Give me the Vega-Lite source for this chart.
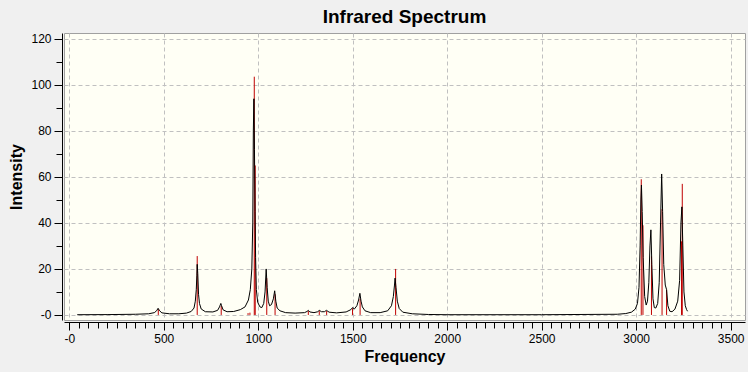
{
  "$schema": "https://vega.github.io/schema/vega-lite/v6.json",
  "width": 681,
  "height": 287,
  "autosize": {"type": "none"},
  "padding": {"left": 64, "top": 33, "right": 3, "bottom": 52},
  "background": "#F0F0F0",
  "title": {"text": "Infrared Spectrum", "font": "Liberation Sans", "fontSize": 19, "fontWeight": "bold", "color": "#000000", "anchor": "middle", "offset": 6},
  "config": {"view": {"fill": "#FFFFF5", "stroke": "#A0A0A0", "strokeWidth": 1}},
  "datasets": {
    "sticks": [
      {"freq": 471, "intensity": 2.5},
      {"freq": 677, "intensity": 25.6},
      {"freq": 804, "intensity": 3.9},
      {"freq": 946, "intensity": 0.8},
      {"freq": 956, "intensity": 1.0},
      {"freq": 979, "intensity": 103.6},
      {"freq": 984, "intensity": 65},
      {"freq": 1045, "intensity": 16},
      {"freq": 1089, "intensity": 9},
      {"freq": 1265, "intensity": 1.7},
      {"freq": 1323, "intensity": 1.7},
      {"freq": 1362, "intensity": 1.7},
      {"freq": 1499, "intensity": 2.9},
      {"freq": 1539, "intensity": 7},
      {"freq": 1727, "intensity": 20},
      {"freq": 3027, "intensity": 59},
      {"freq": 3036, "intensity": 39},
      {"freq": 3081, "intensity": 25.5},
      {"freq": 3137, "intensity": 46},
      {"freq": 3161, "intensity": 11},
      {"freq": 3240, "intensity": 32},
      {"freq": 3244, "intensity": 57}
    ],
    "curve": [
      {"freq": 42, "intensity": 0.1},
      {"freq": 200, "intensity": 0.15},
      {"freq": 350, "intensity": 0.3},
      {"freq": 420, "intensity": 0.5},
      {"freq": 450, "intensity": 1.0},
      {"freq": 462, "intensity": 1.8},
      {"freq": 470, "intensity": 2.9},
      {"freq": 478, "intensity": 1.8},
      {"freq": 490, "intensity": 0.9},
      {"freq": 530, "intensity": 0.5},
      {"freq": 580, "intensity": 0.5},
      {"freq": 620, "intensity": 0.8},
      {"freq": 645, "intensity": 1.5},
      {"freq": 660, "intensity": 3},
      {"freq": 667, "intensity": 6},
      {"freq": 672, "intensity": 11},
      {"freq": 675, "intensity": 17},
      {"freq": 677, "intensity": 22},
      {"freq": 680, "intensity": 18},
      {"freq": 684, "intensity": 9},
      {"freq": 689, "intensity": 5},
      {"freq": 698, "intensity": 2.6},
      {"freq": 720, "intensity": 1.4},
      {"freq": 760, "intensity": 1.3},
      {"freq": 785, "intensity": 2},
      {"freq": 795, "intensity": 3.5},
      {"freq": 802, "intensity": 5},
      {"freq": 806, "intensity": 4},
      {"freq": 814, "intensity": 2.2},
      {"freq": 835, "intensity": 1.4},
      {"freq": 870, "intensity": 1.5},
      {"freq": 905, "intensity": 2.3},
      {"freq": 930, "intensity": 3.5},
      {"freq": 948, "intensity": 6.5},
      {"freq": 958, "intensity": 11},
      {"freq": 966, "intensity": 20},
      {"freq": 971, "intensity": 40},
      {"freq": 974, "intensity": 80},
      {"freq": 977, "intensity": 94},
      {"freq": 980, "intensity": 72},
      {"freq": 983, "intensity": 45},
      {"freq": 986, "intensity": 25},
      {"freq": 990, "intensity": 11},
      {"freq": 997, "intensity": 5.5},
      {"freq": 1009, "intensity": 3.5},
      {"freq": 1019, "intensity": 3.2},
      {"freq": 1029, "intensity": 5},
      {"freq": 1036, "intensity": 10},
      {"freq": 1042, "intensity": 20},
      {"freq": 1047, "intensity": 12},
      {"freq": 1053, "intensity": 6},
      {"freq": 1060, "intensity": 4},
      {"freq": 1070, "intensity": 4.5},
      {"freq": 1080, "intensity": 7},
      {"freq": 1087, "intensity": 10.5},
      {"freq": 1093, "intensity": 6},
      {"freq": 1100, "intensity": 3},
      {"freq": 1115, "intensity": 1.8},
      {"freq": 1145, "intensity": 1.0},
      {"freq": 1195, "intensity": 0.8},
      {"freq": 1245, "intensity": 1.0},
      {"freq": 1258, "intensity": 1.5},
      {"freq": 1265, "intensity": 2.0},
      {"freq": 1273, "intensity": 1.3},
      {"freq": 1295, "intensity": 1.0},
      {"freq": 1315, "intensity": 1.4},
      {"freq": 1323, "intensity": 2.0},
      {"freq": 1335, "intensity": 1.4},
      {"freq": 1350, "intensity": 1.4},
      {"freq": 1361, "intensity": 2.0},
      {"freq": 1375, "intensity": 1.2},
      {"freq": 1415, "intensity": 0.9},
      {"freq": 1465, "intensity": 1.3},
      {"freq": 1490, "intensity": 2.3},
      {"freq": 1499, "intensity": 3.2},
      {"freq": 1509, "intensity": 2.6},
      {"freq": 1522, "intensity": 4},
      {"freq": 1531, "intensity": 6.5},
      {"freq": 1538, "intensity": 9.4},
      {"freq": 1544, "intensity": 6},
      {"freq": 1551, "intensity": 3.5},
      {"freq": 1565, "intensity": 1.8},
      {"freq": 1595, "intensity": 1.0},
      {"freq": 1645, "intensity": 1.0},
      {"freq": 1685, "intensity": 1.8},
      {"freq": 1705, "intensity": 4},
      {"freq": 1715, "intensity": 8},
      {"freq": 1721, "intensity": 13},
      {"freq": 1724, "intensity": 16},
      {"freq": 1729, "intensity": 12},
      {"freq": 1736, "intensity": 6},
      {"freq": 1746, "intensity": 2.8},
      {"freq": 1765, "intensity": 1.2},
      {"freq": 1815, "intensity": 0.5},
      {"freq": 1900, "intensity": 0.2},
      {"freq": 2000, "intensity": 0.1},
      {"freq": 2500, "intensity": 0.1},
      {"freq": 2900, "intensity": 0.3},
      {"freq": 2945, "intensity": 0.6},
      {"freq": 2975, "intensity": 1.2},
      {"freq": 2995, "intensity": 2.5},
      {"freq": 3007, "intensity": 5},
      {"freq": 3015, "intensity": 12},
      {"freq": 3021, "intensity": 30},
      {"freq": 3025, "intensity": 50},
      {"freq": 3028, "intensity": 56.5},
      {"freq": 3032, "intensity": 45},
      {"freq": 3037, "intensity": 25},
      {"freq": 3045, "intensity": 8},
      {"freq": 3053, "intensity": 4.3},
      {"freq": 3060, "intensity": 6},
      {"freq": 3067, "intensity": 14},
      {"freq": 3073, "intensity": 30},
      {"freq": 3078, "intensity": 37},
      {"freq": 3083, "intensity": 22},
      {"freq": 3089, "intensity": 7},
      {"freq": 3096, "intensity": 3.2},
      {"freq": 3104, "intensity": 3.0},
      {"freq": 3114, "intensity": 5},
      {"freq": 3122, "intensity": 14},
      {"freq": 3129, "intensity": 40},
      {"freq": 3135, "intensity": 61.3},
      {"freq": 3140, "intensity": 45},
      {"freq": 3146, "intensity": 22},
      {"freq": 3154, "intensity": 13},
      {"freq": 3161, "intensity": 11},
      {"freq": 3168, "intensity": 4},
      {"freq": 3178, "intensity": 1.6},
      {"freq": 3190, "intensity": 1.4},
      {"freq": 3205, "intensity": 2.5},
      {"freq": 3220, "intensity": 6},
      {"freq": 3230, "intensity": 15},
      {"freq": 3237, "intensity": 40},
      {"freq": 3242, "intensity": 47},
      {"freq": 3247, "intensity": 30},
      {"freq": 3253, "intensity": 10},
      {"freq": 3260, "intensity": 4},
      {"freq": 3267, "intensity": 2.3},
      {"freq": 3272, "intensity": 1.6}
    ]
  },
  "layer": [
    {
      "data": {"name": "sticks"},
      "mark": {"type": "rule", "color": "#C00000", "strokeWidth": 1},
      "encoding": {
        "x": {
          "field": "freq", "type": "quantitative",
          "scale": {"domain": [-28, 3576], "nice": false, "zero": false},
          "axis": {
            "orient": "bottom", "offset": 2,
            "values": [0, 500, 1000, 1500, 2000, 2500, 3000, 3500],
            "format": "d",
            "labelExpr": "datum.value === 0 ? '-0' : datum.label",
            "grid": true, "gridColor": "#C0C0C0", "gridDash": [4, 3], "gridWidth": 1,
            "domainColor": "#000000", "domainWidth": 1,
            "tickColor": "#000000", "tickSize": 8, "tickWidth": 1,
            "labelFont": "Liberation Sans", "labelFontSize": 12, "labelColor": "#000000", "labelPadding": 3, "labelFlush": false,
            "title": "Frequency", "titleFont": "Liberation Sans", "titleFontSize": 16, "titleFontWeight": "bold", "titleColor": "#000000", "titlePadding": 4
          }
        },
        "y": {
          "field": "intensity", "type": "quantitative",
          "scale": {"domain": [-2.2, 122.6], "nice": false, "zero": false},
          "axis": {
            "orient": "left", "offset": 2,
            "values": [0, 20, 40, 60, 80, 100, 120],
            "labelExpr": "datum.value === 0 ? '-0' : datum.label",
            "grid": true, "gridColor": "#C0C0C0", "gridDash": [4, 3], "gridWidth": 1,
            "domainColor": "#000000", "domainWidth": 1,
            "tickColor": "#000000", "tickSize": 8, "tickWidth": 1,
            "labelFont": "Liberation Sans", "labelFontSize": 12, "labelColor": "#000000", "labelPadding": 3, "labelFlush": false,
            "title": "Intensity", "titleFont": "Liberation Sans", "titleFontSize": 16, "titleFontWeight": "bold", "titleColor": "#000000", "titlePadding": 6
          }
        },
        "y2": {"datum": 0}
      }
    },
    {
      "data": {"name": "curve"},
      "mark": {"type": "line", "color": "#000000", "strokeWidth": 1},
      "encoding": {
        "x": {
          "field": "freq", "type": "quantitative",
          "axis": {
            "orient": "bottom", "offset": 2,
            "values": [50, 100, 150, 200, 250, 300, 350, 400, 450, 550, 600, 650, 700, 750, 800, 850, 900, 950, 1050, 1100, 1150, 1200, 1250, 1300, 1350, 1400, 1450, 1550, 1600, 1650, 1700, 1750, 1800, 1850, 1900, 1950, 2050, 2100, 2150, 2200, 2250, 2300, 2350, 2400, 2450, 2550, 2600, 2650, 2700, 2750, 2800, 2850, 2900, 2950, 3050, 3100, 3150, 3200, 3250, 3300, 3350, 3400, 3450],
            "grid": false, "domain": false, "labels": false, "title": null,
            "tickColor": "#000000", "tickSize": 6, "tickWidth": 1
          }
        },
        "y": {
          "field": "intensity", "type": "quantitative",
          "axis": {
            "orient": "left", "offset": 2,
            "values": [10, 30, 50, 70, 90, 110],
            "grid": false, "domain": false, "labels": false, "title": null,
            "tickColor": "#000000", "tickSize": 6, "tickWidth": 1
          }
        }
      }
    }
  ],
  "resolve": {"axis": {"x": "independent", "y": "independent"}}
}
